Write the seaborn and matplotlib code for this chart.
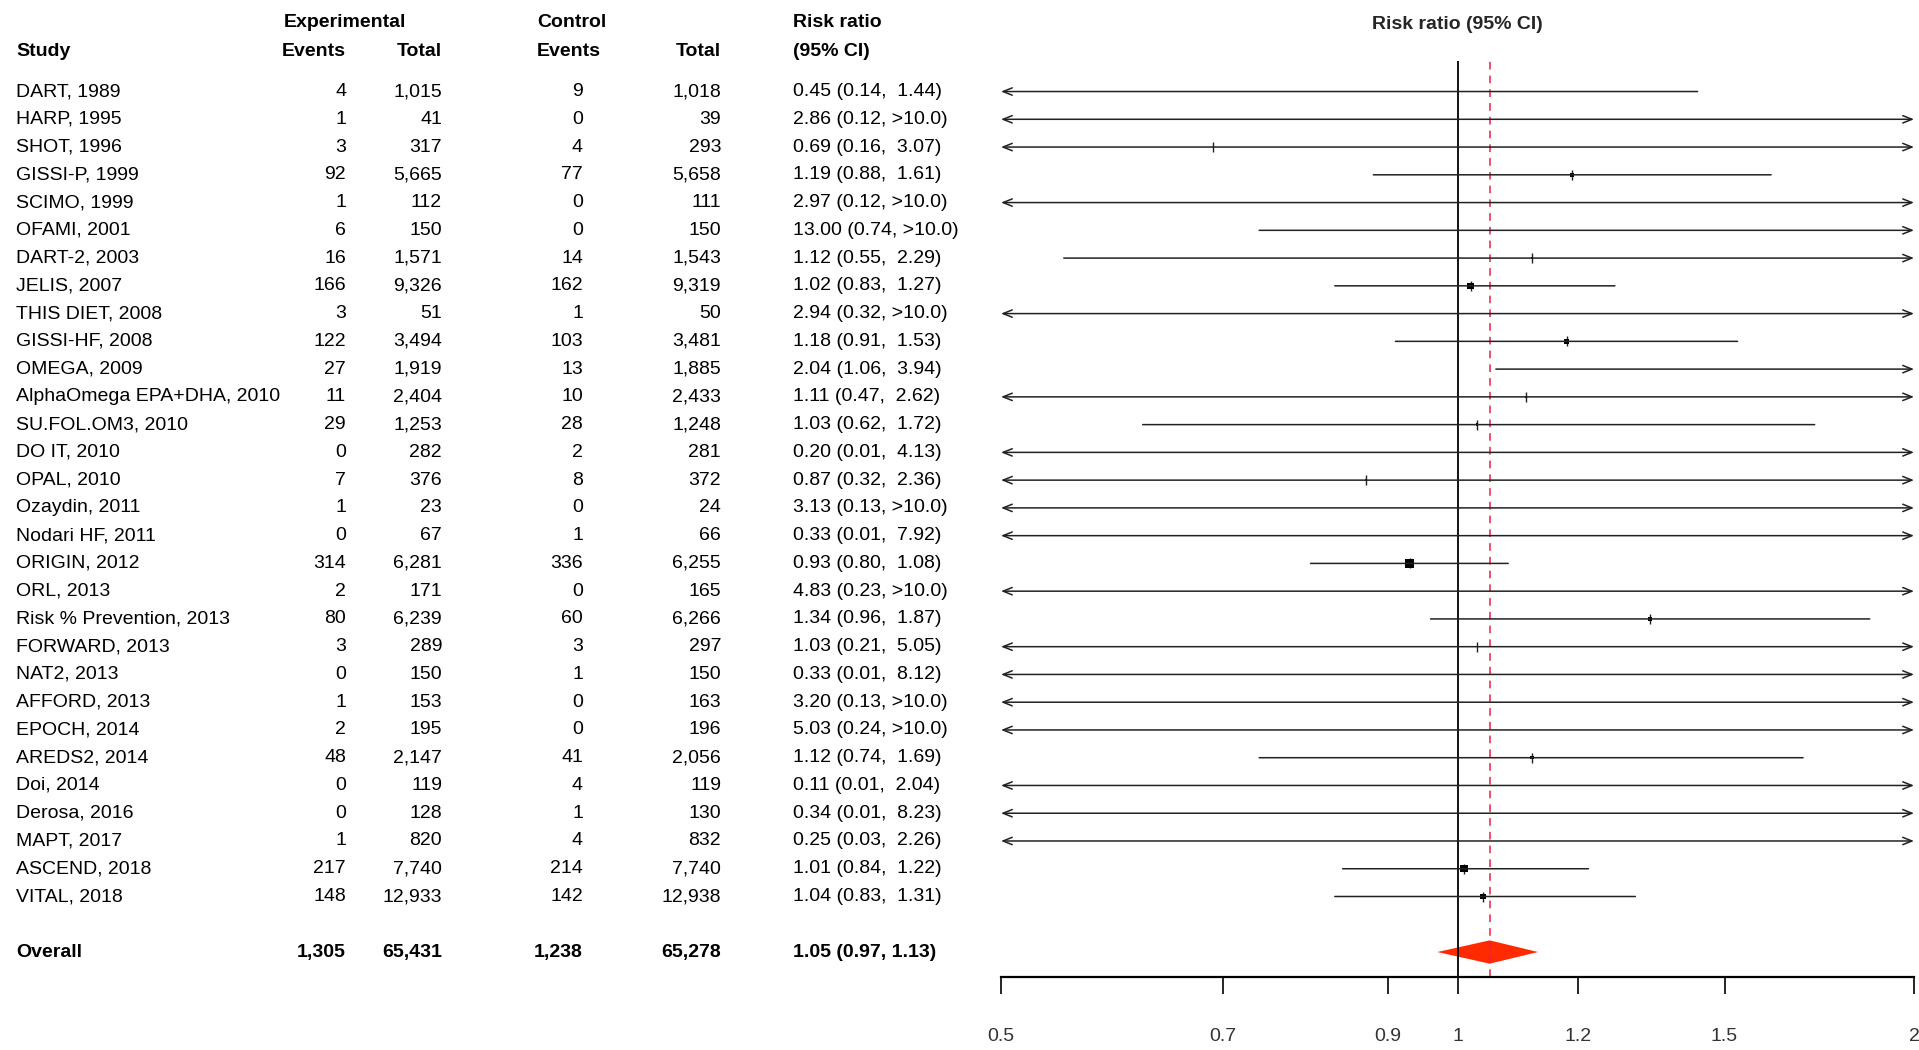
import numpy as np
import pandas as pd
import seaborn as sns
import matplotlib
matplotlib.use("Agg")
import matplotlib.pyplot as plt
from matplotlib import font_manager
from matplotlib.transforms import blended_transform_factory
from matplotlib.ticker import FixedLocator, FixedFormatter, NullLocator

# ---- data ----
studies = ["DART, 1989", "HARP, 1995", "SHOT, 1996", "GISSI-P, 1999", "SCIMO, 1999",
           "OFAMI, 2001", "DART-2, 2003", "JELIS, 2007", "THIS DIET, 2008", "GISSI-HF, 2008",
           "OMEGA, 2009", "AlphaOmega EPA+DHA, 2010", "SU.FOL.OM3, 2010", "DO IT, 2010",
           "OPAL, 2010", "Ozaydin, 2011", "Nodari HF, 2011", "ORIGIN, 2012", "ORL, 2013",
           "Risk % Prevention, 2013", "FORWARD, 2013", "NAT2, 2013", "AFFORD, 2013",
           "EPOCH, 2014", "AREDS2, 2014", "Doi, 2014", "Derosa, 2016", "MAPT, 2017",
           "ASCEND, 2018", "VITAL, 2018"]
exp_events = [4, 1, 3, 92, 1, 6, 16, 166, 3, 122, 27, 11, 29, 0, 7, 1, 0, 314, 2, 80,
              3, 0, 1, 2, 48, 0, 0, 1, 217, 148]
exp_total = [1015, 41, 317, 5665, 112, 150, 1571, 9326, 51, 3494, 1919, 2404, 1253, 282,
             376, 23, 67, 6281, 171, 6239, 289, 150, 153, 195, 2147, 119, 128, 820, 7740, 12933]
ctl_events = [9, 0, 4, 77, 0, 0, 14, 162, 1, 103, 13, 10, 28, 2, 8, 0, 1, 336, 0, 60,
              3, 1, 0, 0, 41, 4, 1, 4, 214, 142]
ctl_total = [1018, 39, 293, 5658, 111, 150, 1543, 9319, 50, 3481, 1885, 2433, 1248, 281,
             372, 24, 66, 6255, 165, 6266, 297, 150, 163, 196, 2056, 119, 130, 832, 7740, 12938]
rr = [0.45, 2.86, 0.69, 1.19, 2.97, 13.00, 1.12, 1.02, 2.94, 1.18, 2.04, 1.11, 1.03, 0.20,
      0.87, 3.13, 0.33, 0.93, 4.83, 1.34, 1.03, 0.33, 3.20, 5.03, 1.12, 0.11, 0.34, 0.25,
      1.01, 1.04]
rr_lo = [0.14, 0.12, 0.16, 0.88, 0.12, 0.74, 0.55, 0.83, 0.32, 0.91, 1.06, 0.47, 0.62, 0.01,
         0.32, 0.13, 0.01, 0.80, 0.23, 0.96, 0.21, 0.01, 0.13, 0.24, 0.74, 0.01, 0.01, 0.03,
         0.84, 0.83]
# np.inf where the table reports ">10.0"
rr_hi = [1.44, np.inf, 3.07, 1.61, np.inf, np.inf, 2.29, 1.27, np.inf, 1.53, 3.94, 2.62,
         1.72, 4.13, 2.36, np.inf, 7.92, 1.08, np.inf, 1.87, 5.05, 8.12, np.inf, np.inf,
         1.69, 2.04, 8.23, 2.26, 1.22, 1.31]
overall_counts = [1305, 65431, 1238, 65278]
overall_rr, overall_lo, overall_hi = 1.05, 0.97, 1.13
x_ticks = [0.5, 0.7, 0.9, 1, 1.2, 1.5, 2]
x_tick_labels = ["0.5", "0.7", "0.9", "1", "1.2", "1.5", "2"]

df = pd.DataFrame({"study": studies, "e1": exp_events, "n1": exp_total,
                   "e2": ctl_events, "n2": ctl_total,
                   "rr": rr, "lo": rr_lo, "hi": rr_hi})
df["row"] = np.arange(len(df))
# inverse variance weight of log RR (0.5 correction for zero cells) -> box area
a = df.e1.where(df.e1 > 0, 0.5)
c = df.e2.where(df.e2 > 0, 0.5)
var = 1 / a - 1 / df.n1 + 1 / c - 1 / df.n2
df["w"] = 1 / var
overall_row = len(df) + 1

# ---- style ----
sns.set_theme(style="white")
names = {f.name for f in font_manager.fontManager.ttflist}
if "Liberation Sans Narrow" in names:
    fam, fs = "Liberation Sans Narrow", 16
else:
    fam, fs = "Liberation Sans", 14
plt.rcParams["font.family"] = [fam, "DejaVu Sans"]

W, H = 1919, 1050
fig = plt.figure(figsize=(W / 100, H / 100), dpi=100)
ax_left, ax_right = 1001 / W, 1914 / W
ax_bot, ax_top = (H - 977) / H, (H - 61) / H
ax = fig.add_axes([ax_left, ax_bot, ax_right - ax_left, ax_top - ax_bot])

ax.set_xscale("log")
ax.set_xlim(0.5, 2)
ax.set_ylim(31.9, -1.1)

# reference lines
ax.axvline(1, color="black", lw=1.3)
ax.axvline(overall_rr, color="#e8204a", lw=1.1, ls=(0, (5, 4)))

# confidence intervals, arrows when they run off the axis
xmin, xmax = ax.get_xlim()
for _, r in df.iterrows():
    lo_c, hi_c = max(r.lo, xmin), min(r.hi, xmax)
    left, right = r.lo < xmin, r.hi > xmax
    style = {(True, True): "<->", (True, False): "<-", (False, True): "->",
             (False, False): "-"}[(left, right)]
    if style != "-":
        style += ",head_length=0.55,head_width=0.22"
    ax.annotate("", xy=(hi_c, r.row), xytext=(lo_c, r.row),
                arrowprops=dict(arrowstyle=style, lw=1.1, color="#222222",
                                shrinkA=0, shrinkB=0),
                annotation_clip=False)

inside = df[(df.rr > xmin) & (df.rr < xmax)]
sns.scatterplot(data=inside, x="rr", y="row", marker="|", s=45, color="#222222",
                linewidth=1.0, ax=ax, legend=False)
sns.scatterplot(x=inside.rr, y=inside.row, marker="s", s=inside.w * 0.25,
                color="black", linewidth=0, ax=ax, legend=False)

# overall diamond
dh = 0.42
ax.fill([overall_lo, overall_rr, overall_hi, overall_rr],
        [overall_row, overall_row - dh, overall_row, overall_row + dh],
        color="#ff2a00", lw=0)

# axis styling
for s in ["top", "right", "left"]:
    ax.spines[s].set_visible(False)
ax.spines["bottom"].set_color("black")
ax.spines["bottom"].set_linewidth(1.6)
ax.xaxis.set_major_locator(FixedLocator(x_ticks))
ax.xaxis.set_major_formatter(FixedFormatter(x_tick_labels))
ax.xaxis.set_minor_locator(NullLocator())
ax.tick_params(axis="x", direction="out", length=12, width=1.2, color="black",
               pad=25, labelsize=fs, labelcolor="#333333", bottom=True)
ax.set_yticks([])
ax.set_xlabel("")
ax.set_ylabel("")

# ---- table on the left ----
tr = blended_transform_factory(fig.transFigure, ax.transData)
tra = blended_transform_factory(ax.transAxes, ax.transData)


def put(xpx, y, s, ha="left", bold=False):
    ax.text(xpx / W, y, s, transform=tr, ha=ha, va="center", fontsize=fs,
            fontweight="bold" if bold else "normal", color="black", clip_on=False)


ax.text(0.5, -2.43, "Risk ratio (95% CI)", transform=tra, ha="center", va="center",
        fontsize=fs, fontweight="bold", clip_on=False)

h1, h2 = -2.47, -1.46
put(16, h2, "Study", bold=True)
put(284, h1, "Experimental", bold=True)
put(346, h2, "Events", ha="right", bold=True)
put(442, h2, "Total", ha="right", bold=True)
put(537, h1, "Control", bold=True)
put(537, h2, "Events", bold=True)
put(721, h2, "Total", ha="right", bold=True)
put(793, h1, "Risk ratio", bold=True)
put(793, h2, "(95% CI)", bold=True)


def ci_text(v, lo, hi):
    hs = ">10.0" if hi > 10 else f" {hi:.2f}"
    return f"{v:.2f} ({lo:.2f}, {hs})"


for _, r in df.iterrows():
    put(16, r.row, r.study)
    put(346, r.row, f"{int(r.e1):,}", ha="right")
    put(442, r.row, f"{int(r.n1):,}", ha="right")
    put(583, r.row, f"{int(r.e2):,}", ha="right")
    put(721, r.row, f"{int(r.n2):,}", ha="right")
    put(793, r.row, ci_text(r.rr, r.lo, r.hi))

put(16, overall_row, "Overall", bold=True)
for xpx, v in zip([346, 442, 583, 721], overall_counts):
    put(xpx, overall_row, f"{v:,}", ha="right", bold=True)
put(793, overall_row, f"{overall_rr:.2f} ({overall_lo:.2f}, {overall_hi:.2f})", bold=True)

fig.savefig("out.png", dpi=100, facecolor="white")
